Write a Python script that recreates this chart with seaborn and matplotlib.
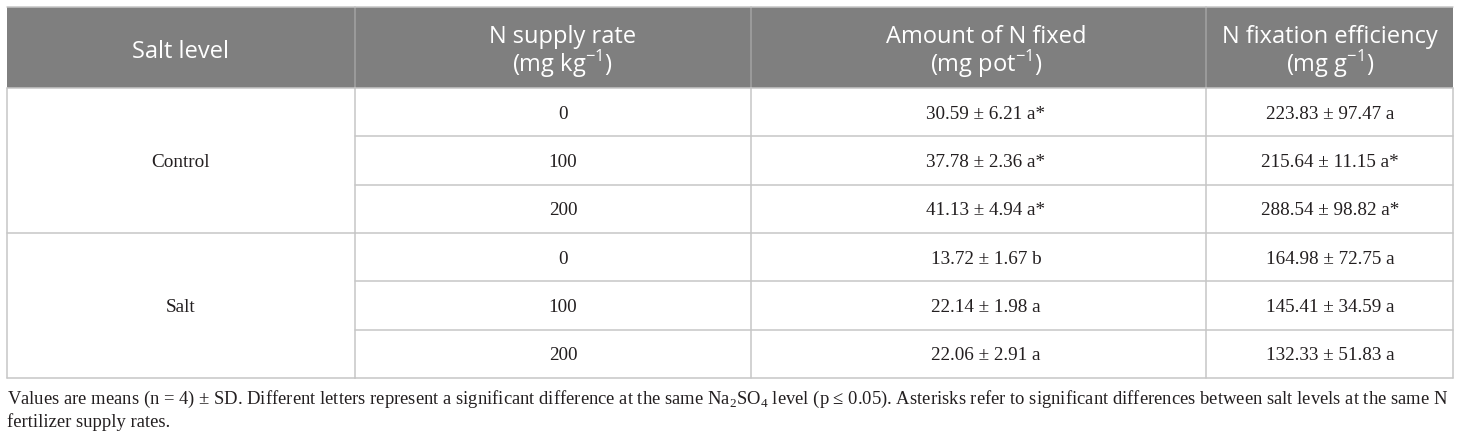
import matplotlib
matplotlib.use("Agg")
import matplotlib.pyplot as plt
import seaborn as sns
from matplotlib.patches import Rectangle

# ---------------- data ----------------
col_headers = ["Salt level",
               "N supply rate\n(mg kg$^{\\mathregular{-1}}$)",
               "Amount of N fixed\n(mg pot$^{\\mathregular{-1}}$)",
               "N fixation efficiency\n(mg g$^{\\mathregular{-1}}$)"]
salt_levels = ["Control", "Salt"]
n_rates = ["0", "100", "200"]
n_fixed_mean = [30.59, 37.78, 41.13, 13.72, 22.14, 22.06]
n_fixed_sd = [6.21, 2.36, 4.94, 1.67, 1.98, 2.91]
n_fixed_letter = ["a*", "a*", "a*", "b", "a", "a"]
eff_mean = [223.83, 215.64, 288.54, 164.98, 145.41, 132.33]
eff_sd = [97.47, 11.15, 98.82, 72.75, 34.59, 51.83]
eff_letter = ["a", "a*", "a*", "a", "a", "a"]
footnote_lines = [
    "Values are means (n = 4) ± SD. Different letters represent a significant difference at the same "
    "Na$_{\\mathregular{2}}$SO$_{\\mathregular{4}}$ level (p ≤ 0.05). Asterisks refer to significant "
    "differences between salt levels at the same N",
    "fertilizer supply rates.",
]

# ---------------- layout ----------------
W, H, DPI = 1460, 440, 100
col_edges = [7, 355, 751, 1206, 1453]
text_x = [181, 563, 986, 1330]
top, head_bot = 7, 88
row_h = (378 - 88) / 6.0
header_fill = "#7f7f7f"
grid_col = "#c6c6c6"
head_sep = "#a3a3a3"
text_col = "#231f20"
lw = 1.1

sns.set_theme(style="white")
plt.rcParams["mathtext.fontset"] = "dejavusans"

fig = plt.figure(figsize=(W / DPI, H / DPI), dpi=DPI)
ax = fig.add_axes([0, 0, 1, 1])
ax.set_xlim(0, W)
ax.set_ylim(H, 0)
ax.axis("off")

# header
ax.add_patch(Rectangle((col_edges[0], top), col_edges[-1] - col_edges[0], head_bot - top,
                       facecolor=header_fill, edgecolor="none", zorder=1))
for x in col_edges[1:-1]:
    ax.plot([x, x], [top, head_bot], color=head_sep, lw=lw, zorder=2)
hfont = dict(family=["Open Sans", "DejaVu Sans"], fontsize=17, color="white")
for i, h in enumerate(col_headers):
    lines = h.split("\n")
    if len(lines) == 1:
        ax.text(text_x[i], 50, lines[0], ha="center", va="baseline", **hfont)
        ax.texts[-1].set_y(58)
    else:
        ax.text(text_x[i], 43, lines[0], ha="center", va="baseline", **hfont)
        ax.text(text_x[i], 72, lines[1], ha="center", va="baseline", **hfont)

# body rows
n_rows = len(salt_levels) * len(n_rates)
row_top = [head_bot + r * row_h for r in range(n_rows + 1)]
bfont = dict(family=["Liberation Serif", "DejaVu Serif"], fontsize=13.8, color=text_col)
for r in range(n_rows):
    yc = (row_top[r] + row_top[r + 1]) / 2
    g, k = divmod(r, len(n_rates))
    ax.text(text_x[1], yc, n_rates[k], ha="center", va="center_baseline", **bfont)
    ax.text(text_x[2], yc, f"{n_fixed_mean[r]:.2f} ± {n_fixed_sd[r]:.2f} {n_fixed_letter[r]}",
            ha="center", va="center_baseline", **bfont)
    ax.text(text_x[3], yc, f"{eff_mean[r]:.2f} ± {eff_sd[r]:.2f} {eff_letter[r]}",
            ha="center", va="center_baseline", **bfont)
    # horizontal line under row in columns 2-4
    ax.plot([col_edges[1], col_edges[-1]], [row_top[r + 1]] * 2, color=grid_col, lw=lw, zorder=2)

for g, lvl in enumerate(salt_levels):
    y0 = row_top[g * len(n_rates)]
    y1 = row_top[(g + 1) * len(n_rates)]
    ax.text(text_x[0], (y0 + y1) / 2, lvl, ha="center", va="center_baseline", **bfont)
    ax.plot([col_edges[0], col_edges[1]], [y1, y1], color=grid_col, lw=lw, zorder=2)

# vertical body lines
for x in col_edges:
    ax.plot([x, x], [head_bot, row_top[-1]], color=grid_col, lw=lw, zorder=2)
# top border
ax.plot([col_edges[0], col_edges[-1]], [top, top], color=grid_col, lw=lw, zorder=3)
ax.plot([col_edges[0], col_edges[-1]], [head_bot, head_bot], color=grid_col, lw=lw, zorder=3)

# footnote
ffont = dict(family=["Liberation Serif", "DejaVu Serif"], color=text_col)
t1 = ax.text(col_edges[0], 404, footnote_lines[0], ha="left", va="baseline", fontsize=13.5, **ffont)
fig.canvas.draw()
bb = t1.get_window_extent(renderer=fig.canvas.get_renderer())
target = col_edges[-1] - col_edges[0] - 1
fs = 13.5 * target / bb.width
t1.set_fontsize(fs)
ax.text(col_edges[0], 427, footnote_lines[1], ha="left", va="baseline", fontsize=fs, **ffont)

fig.savefig("out.png", dpi=DPI)
